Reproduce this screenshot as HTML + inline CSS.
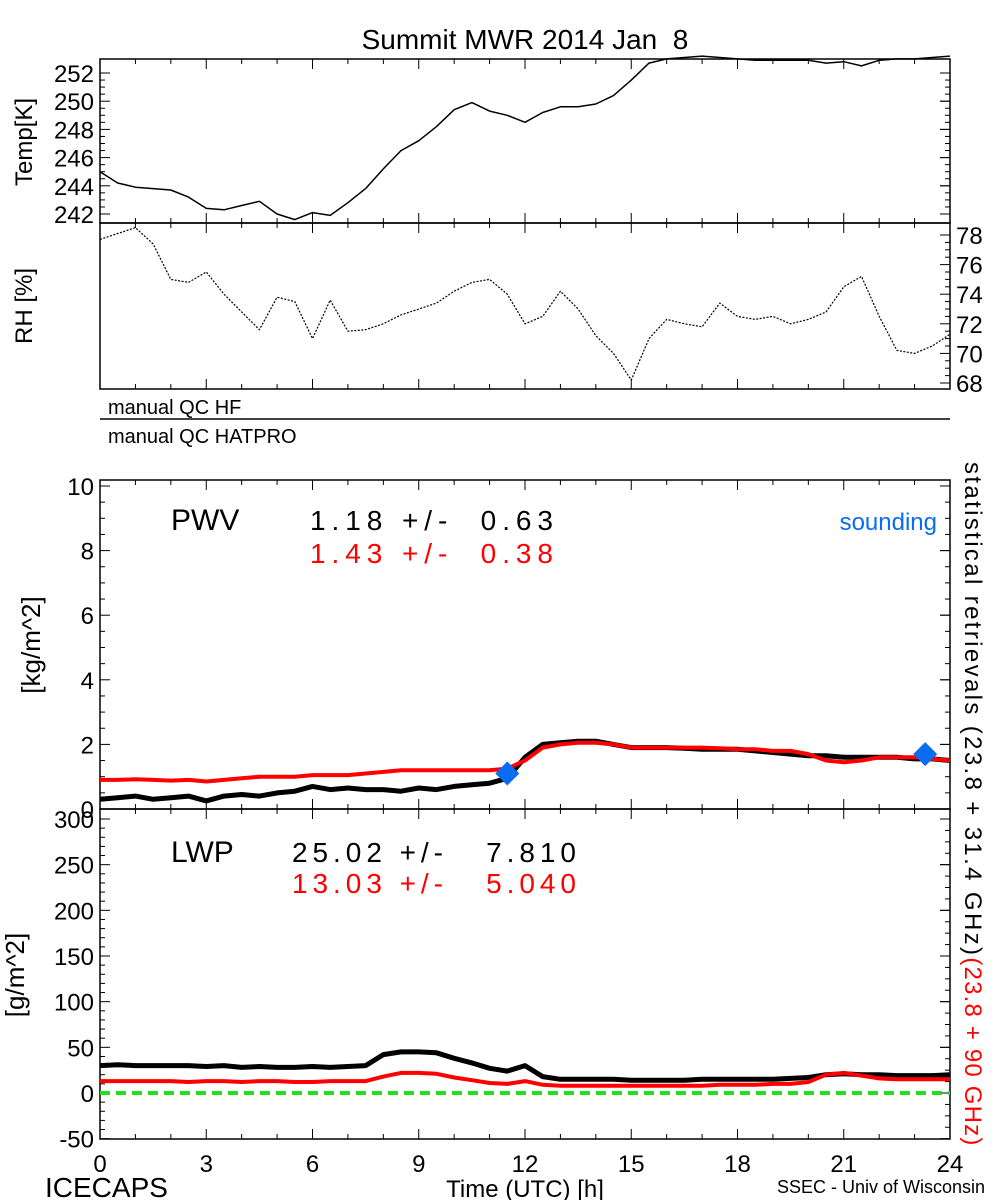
<!DOCTYPE html>
<html><head><meta charset="utf-8"><style>
html,body{margin:0;padding:0;background:#fff;}
svg{display:block;font-family:"Liberation Sans",sans-serif;}
text{white-space:pre;}
</style></head><body>
<svg id="chart" width="1000" height="1200" viewBox="0 0 1000 1200" xmlns="http://www.w3.org/2000/svg">
<rect x="0" y="0" width="1000" height="1200" fill="#fff"/>
<text x="525" y="49" font-size="28" text-anchor="middle">Summit MWR 2014 Jan  8</text>
<g id="g"></g>
</svg>
<script>
const hours = [0,0.5,1,1.5,2,2.5,3,3.5,4,4.5,5,5.5,6,6.5,7,7.5,8,8.5,9,9.5,10,10.5,11,11.5,12,12.5,13,13.5,14,14.5,15,15.5,16,16.5,17,17.5,18,18.5,19,19.5,20,20.5,21,21.5,22,22.5,23,23.5,24];
const tempK = [245.0,244.2,243.9,243.8,243.7,243.2,242.4,242.3,242.6,242.9,242.0,241.6,242.1,241.9,242.8,243.8,245.2,246.5,247.2,248.2,249.4,249.9,249.3,249.0,248.5,249.2,249.6,249.6,249.8,250.4,251.5,252.7,253.0,253.1,253.2,253.1,253.0,252.9,252.9,252.9,252.9,252.7,252.8,252.5,252.9,253.0,253.0,253.1,253.2];
const rhPct = [77.7,78.1,78.5,77.4,75.0,74.8,75.5,74.0,72.8,71.6,73.8,73.5,71.0,73.6,71.5,71.6,72.0,72.6,73.0,73.4,74.2,74.8,75.0,74.0,72.0,72.5,74.2,73.0,71.2,70.0,68.2,71.0,72.3,72.0,71.8,73.4,72.5,72.3,72.5,72.0,72.3,72.8,74.5,75.2,72.5,70.2,70.0,70.5,71.3];
const pwvHF = [0.3,0.35,0.4,0.3,0.35,0.4,0.25,0.4,0.45,0.4,0.5,0.55,0.7,0.6,0.65,0.6,0.6,0.55,0.65,0.6,0.7,0.75,0.8,0.95,1.6,2.0,2.05,2.1,2.1,2.0,1.9,1.9,1.9,1.88,1.85,1.85,1.85,1.8,1.75,1.7,1.65,1.65,1.6,1.6,1.6,1.6,1.55,1.55,1.5];
const pwvHAT = [0.9,0.9,0.92,0.9,0.88,0.9,0.85,0.9,0.95,1.0,1.0,1.0,1.05,1.05,1.05,1.1,1.15,1.2,1.2,1.2,1.2,1.2,1.2,1.25,1.5,1.9,2.0,2.05,2.05,2.0,1.9,1.9,1.9,1.9,1.9,1.88,1.85,1.85,1.8,1.8,1.7,1.5,1.45,1.5,1.6,1.6,1.6,1.55,1.5];
const lwpHF = [30,31,30,30,30,30,29,30,28,29,28,28,29,28,29,30,42,45,45,44,38,33,27,24,30,18,15,15,15,15,14,14,14,14,15,15,15,15,15,16,17,20,21,20,20,19,19,19,20];
const lwpHAT = [13,13,13,13,13,12,13,13,12,13,13,12,12,13,13,13,18,22,22,21,17,14,11,10,13,9,8,8,8,8,8,8,8,8,8,9,9,9,10,10,12,20,22,19,16,15,15,15,15];
const soundHours = [11.5,23.3];
const soundPWV = [1.1,1.7];
const xTicks = [0,3,6,9,12,15,18,21,24];
const tempTicks = [242,244,246,248,250,252];
const rhTicks = [68,70,72,74,76,78];
const pwvTicks = [0,2,4,6,8,10];
const lwpTicks = [-50,0,50,100,150,200,250,300];

const NS="http://www.w3.org/2000/svg";
const G=document.getElementById('g');
function el(t,a,p){const e=document.createElementNS(NS,t);for(const k in a)e.setAttribute(k,a[k]);(p||G).appendChild(e);return e;}
const X0=100,X1=950;
const xs=h=>X0+(h/24)*(X1-X0);
function lin(v0,y0,v1,y1){return v=>y0+(v-v0)*(y1-y0)/(v1-v0);}
const yT=lin(242,214,252,73);
const yR=lin(68,383,78,235);
const yP=lin(0,809,10,486);
const yL=lin(0,1093,300,819);
const panels=[{t:59,b:223,n:'temp'},{t:223,b:389,n:'rh'},{t:480,b:809,n:'pwv'},{t:809,b:1139,n:'lwp'}];

function minorX(p){
  for(let h=0;h<=24;h+=1){const x=xs(h);const L=(h%3===0)?10:5;
    let e=el('line',{x1:x,x2:x,y1:p.b,y2:p.b-L,stroke:'#000','stroke-width':1});
    
    
    e=el('line',{x1:x,x2:x,y1:p.t,y2:p.t+L,stroke:'#000','stroke-width':1});
    
    }
}
panels.forEach(p=>{
  const r=el('rect',{x:X0,y:p.t,width:X1-X0,height:p.b-p.t,fill:'none',stroke:'#000','stroke-width':1.5});
  
  
  minorX(p);
});
function yTicks(ticks,sc,side,minor,fs,dx){
  ticks.forEach(v=>{const y=sc(v);
    const xl=side==='left'?X0:X1,d=side==='left'?1:-1;
    let e=el('line',{x1:xl,x2:xl+d*10,y1:y,y2:y,stroke:'#000'});
    
    
    const t=el('text',{x:side==='left'?X0-(dx||6):X1+6,y:y+9,'font-size':fs||24,'text-anchor':side==='left'?'end':'start'});
    t.textContent=v;
    
    
  });
  if(minor){for(let i=0;i<ticks.length-1;i++){const step=(ticks[i+1]-ticks[i])/minor;
    for(let k=1;k<minor;k++){const y=sc(ticks[i]+k*step);const xl=side==='left'?X0:X1,d=side==='left'?1:-1;
      const e=el('line',{x1:xl,x2:xl+d*5,y1:y,y2:y,stroke:'#000'});
      
      }}}
}
yTicks(tempTicks,yT,'left',4);
yTicks(rhTicks,yR,'right',4);
yTicks(pwvTicks,yP,'left',4);
yTicks(lwpTicks,yL,'left',5);
[[tempTicks,yT],[pwvTicks,yP],[lwpTicks,yL]].forEach(([tk,sc])=>{
  for(let i=0;i<tk.length-1;i++){const step=(tk[i+1]-tk[i])/4;for(let k=0;k<=4;k++){const y=sc(tk[i]+k*step);
  const e=el('line',{x1:X1,x2:X1-(k%4===0?10:5),y1:y,y2:y,stroke:'#000'});
  
  }}});
xTicks.forEach(h=>{const t=el('text',{x:xs(h),y:1172,'font-size':24,'text-anchor':'middle'});t.textContent=h;
  
  });

function line(vals,sc,color,w,name,dash){
  const d=vals.map((v,i)=>(i?'L':'M')+xs(hours[i]).toFixed(1)+','+sc(v).toFixed(1)).join('');
  const a={d:d,fill:'none',stroke:color,'stroke-width':w,'stroke-linejoin':'round'};
  if(dash)a['stroke-dasharray']=dash;
  const e=el('path',a);
  
  
}
line(tempK,yT,'#000',1.5,'temperature-line');
line(rhPct,yR,'#000',1.2,'rh-line','2 1.5');
line(pwvHF,yP,'#000',5,'pwv-hf-line');
line(pwvHAT,yP,'#f00',4,'pwv-hatpro-line');
line(lwpHF,yL,'#000',5,'lwp-hf-line');
line(lwpHAT,yL,'#f00',4,'lwp-hatpro-line');
{const e=el('line',{x1:X0,x2:X1,y1:yL(0),y2:yL(0),stroke:'#22dd22','stroke-width':4,'stroke-dasharray':'10 6'});
 
 }
soundHours.forEach((h,i)=>{const x=xs(h),y=yP(soundPWV[i]);
  const e=el('polygon',{points:`${x},${y-12} ${x+12},${y} ${x},${y+12} ${x-12},${y}`,fill:'#0a6cf0'});
  
  });

function txt(s,x,y,fs,attrs,name,color){const t=el('text',Object.assign({x:x,y:y,'font-size':fs,fill:color||'#000'},attrs||{}));t.textContent=s;
  
  return t;}
txt('Temp[K]',32,142,24,{transform:'rotate(-90 32 142)','text-anchor':'middle'},'temp-axis-title');
txt('RH [%]',32,306,24,{transform:'rotate(-90 32 306)','text-anchor':'middle'},'rh-axis-title');
txt('[kg/m^2]',40,645,26,{transform:'rotate(-90 40 645)','text-anchor':'middle'},'pwv-axis-title');
txt('[g/m^2]',24,975,26,{transform:'rotate(-90 24 975)','text-anchor':'middle'},'lwp-axis-title');
txt('manual QC HF',108,414,20,{},'qc-hf-label');
txt('manual QC HATPRO',108,443,20,{},'qc-hatpro-label');
{const e=el('line',{x1:X0,x2:X1,y1:419,y2:419,stroke:'#000','stroke-width':1.5});
 
 }
txt('PWV',171,530,30,{},'pwv-label');
txt('1.18 +/-  0.63',310,530,28,{textLength:243,lengthAdjust:'spacing'},'pwv-hf-stat');
txt('1.43 +/-  0.38',310,563,28,{textLength:243,lengthAdjust:'spacing'},'pwv-hatpro-stat','#f00');
txt('sounding',937,530,24,{'text-anchor':'end'},'sounding-legend','#0a6cf0');
txt('LWP',171,862,30,{},'lwp-label');
txt('25.02 +/-   7.810',292,862,28,{textLength:284,lengthAdjust:'spacing'},'lwp-hf-stat');
txt('13.03 +/-   5.040',292,893,28,{textLength:284,lengthAdjust:'spacing'},'lwp-hatpro-stat','#f00');
{const t=el('text',{x:965,y:462,'font-size':24,transform:'rotate(90 965 462)'});
 
 
 const a=document.createElementNS(NS,'tspan');a.setAttribute('textLength','493');a.setAttribute('lengthAdjust','spacing');a.textContent='statistical retrievals (23.8 + 31.4 GHz)';t.appendChild(a);
 const b=document.createElementNS(NS,'tspan');b.setAttribute('fill','#f00');b.setAttribute('textLength','188');b.setAttribute('lengthAdjust','spacing');b.textContent='(23.8 + 90 GHz)';t.appendChild(b);}
txt('ICECAPS',45,1197,28,{},'icecaps-label');
txt('Time (UTC) [h]',525,1197,24,{'text-anchor':'middle'},'x-axis-title');
txt('SSEC - Univ of Wisconsin',985,1193,18,{'text-anchor':'end'},'credit-label');
</script>
</body></html>
